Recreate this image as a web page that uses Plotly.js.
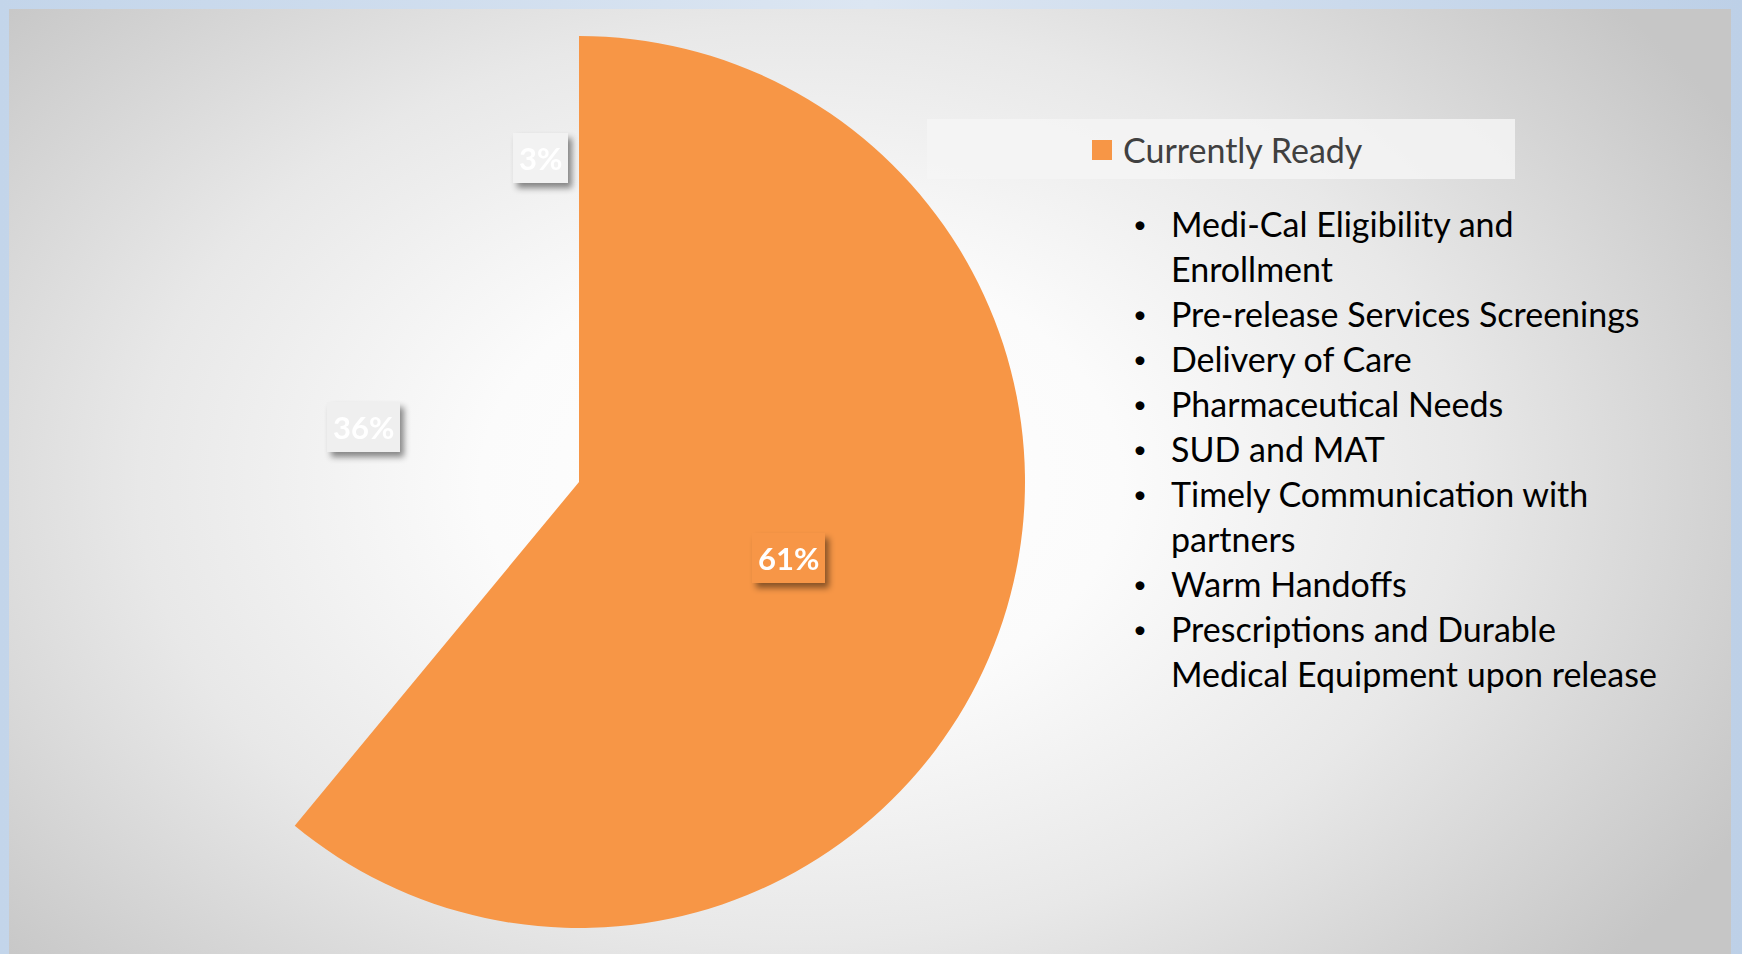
<!DOCTYPE html>
<html>
<head>
<meta charset="utf-8">
<script src="https://cdn.plot.ly/plotly-3.0.1.min.js"></script>
<style>
  html, body { margin:0; padding:0; width:1742px; height:954px; overflow:hidden;
    background: linear-gradient(90deg, #c3d5ea 0%, #dce6f2 50%, #bdd0e7 100%); }
  #bg { position:absolute; left:9px; top:9px; width:1722px; height:945px;
    background: radial-gradient(ellipse 62% 78% at 46% 50%, #ffffff 0%, #fbfbfb 30%, #e8e8e8 62%, #c6c6c6 100%); }
  #chart { position:absolute; left:0; top:0; width:1742px; height:954px; }
</style>
</head>
<body>
<div id="bg"></div>
<div id="chart"></div>
<script>
// ---- data ----
const sliceLabels = ["Currently Ready", "In Progress", "Not Started"];
const sliceValues = [61, 36, 3];
const sliceColors = ["#F79646", "rgba(0,0,0,0)", "rgba(0,0,0,0)"];
const labelBoxColors = ["#F79646", "#efefef", "#f2f2f2"];
const legendLabel = "Currently Ready";
const bulletItems = [
  ["Medi-Cal Eligibility and", "Enrollment"],
  ["Pre-release Services Screenings"],
  ["Delivery of Care"],
  ["Pharmaceutical Needs"],
  ["SUD and MAT"],
  ["Timely Communication with", "partners"],
  ["Warm Handoffs"],
  ["Prescriptions and Durable", "Medical Equipment upon release"]
];

// ---- layout geometry (pixels) ----
const W = 1742, H = 954;
const cx = 579, cy = 482, R = 446;
const px = x => x / W;
const py = y => 1 - y / H;
const FONT = "Lato, 'Open Sans', sans-serif";

const total = sliceValues.reduce((a, b) => a + b, 0);
const labelRadial = [0.5, 0.5, 0.73];
const labelShift = [0, 0, -8];
const annotations = [];
let cum = 0;
sliceValues.forEach((v, i) => {
  const mid = (cum + v / 2) / total * 2 * Math.PI; // clockwise from 12 o'clock
  cum += v;
  const lx = cx + labelRadial[i] * R * Math.sin(mid);
  const ly = cy - labelRadial[i] * R * Math.cos(mid);
  annotations.push({
    xref: "paper", yref: "paper", x: px(lx), y: py(ly), xshift: labelShift[i],
    xanchor: "center", yanchor: "middle", showarrow: false,
    text: "<b>" + Math.round(v / total * 100) + "%</b>",
    font: { family: FONT, size: 31, color: "#ffffff" },
    bgcolor: labelBoxColors[i], borderpad: 6, borderwidth: 0
  });
});

// legend
annotations.push({
  xref: "paper", yref: "paper", x: px(1121), y: py(150),
  xanchor: "left", yanchor: "middle", showarrow: false,
  text: legendLabel, font: { family: FONT, size: 34, color: "#404040" }
});

// bullets
let line = 0;
const y0 = 224, dy = 44.9;
bulletItems.forEach(item => {
  annotations.push({
    xref: "paper", yref: "paper", x: px(1140), y: py(y0 + line * dy),
    xanchor: "center", yanchor: "middle", showarrow: false,
    text: "•", font: { family: FONT, size: 24, color: "#000000" }
  });
  item.forEach(t => {
    annotations.push({
      xref: "paper", yref: "paper", x: px(1169), y: py(y0 + line * dy),
      xanchor: "left", yanchor: "middle", showarrow: false,
      text: t, font: { family: FONT, size: 34, color: "#000000" }
    });
    line++;
  });
});

const shapes = [
  { type: "rect", xref: "paper", yref: "paper", layer: "below",
    x0: px(927), x1: px(1515), y0: py(119), y1: py(179),
    fillcolor: "rgba(244,244,244,0.85)", line: { width: 0 } },
  { type: "rect", xref: "paper", yref: "paper",
    x0: px(1092), x1: px(1112), y0: py(140), y1: py(160),
    fillcolor: sliceColors[0], line: { width: 0 } }
];

const trace = {
  type: "pie", labels: sliceLabels, values: sliceValues, sort: false,
  direction: "clockwise", rotation: 0,
  marker: { colors: sliceColors, line: { width: 0 } },
  textinfo: "none", hoverinfo: "skip", showlegend: false,
  domain: { x: [px(cx - R), px(cx + R)], y: [py(cy + R), py(cy - R)] }
};

const layout = {
  width: W, height: H, margin: { l: 0, r: 0, t: 0, b: 0 },
  paper_bgcolor: "rgba(0,0,0,0)", plot_bgcolor: "rgba(0,0,0,0)",
  showlegend: false, annotations: annotations, shapes: shapes
};

Plotly.newPlot("chart", [trace], layout, { displayModeBar: false, staticPlot: true }).then(gd => {
  const ns = "http://www.w3.org/2000/svg";
  const svg = gd.querySelector("svg.main-svg");
  let defs = svg.querySelector("defs");
  if (!defs) { defs = document.createElementNS(ns, "defs"); svg.appendChild(defs); }
  const f = document.createElementNS(ns, "filter");
  f.setAttribute("id", "lblShadow");
  f.setAttribute("x", "-30%"); f.setAttribute("y", "-30%");
  f.setAttribute("width", "170%"); f.setAttribute("height", "170%");
  const ds = document.createElementNS(ns, "feDropShadow");
  ds.setAttribute("dx", "4"); ds.setAttribute("dy", "5");
  ds.setAttribute("stdDeviation", "3");
  ds.setAttribute("flood-color", "#000"); ds.setAttribute("flood-opacity", "0.45");
  f.appendChild(ds); defs.appendChild(f);
  for (let i = 0; i < sliceValues.length; i++) {
    const g = gd.querySelector('.annotation[data-index="' + i + '"] .annotation-text-g');
    if (g) g.setAttribute("filter", "url(#lblShadow)");
  }
});
</script>
</body>
</html>
